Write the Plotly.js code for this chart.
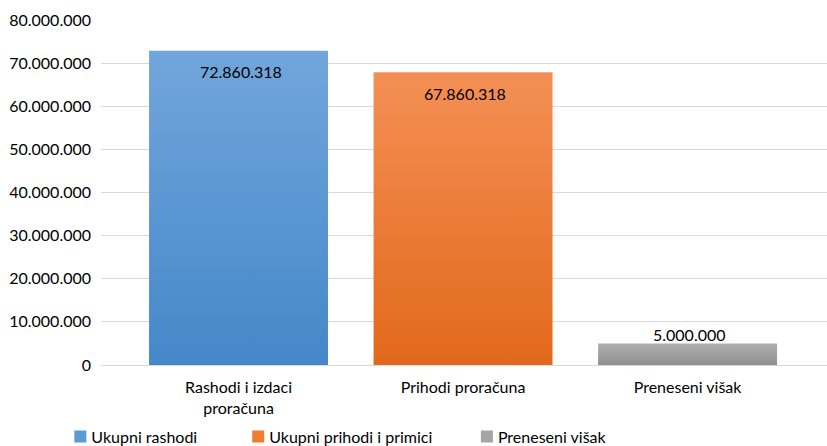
<!DOCTYPE html>
<html>
<head>
<meta charset="utf-8">
<script src="https://cdn.plot.ly/plotly-3.0.1.min.js"></script>
<style>
  html, body { margin: 0; padding: 0; background: #fff; }
  #chart { width: 827px; height: 446px; }
  #chart g.traces > text { transform: translateX(-9px); }
</style>
</head>
<body>
<div id="chart"></div>
<script>
// ---- data ----
const categories = ['Rashodi i izdaci<br>proračuna', 'Prihodi proračuna', 'Preneseni višak'];
const seriesNames = ['Ukupni rashodi', 'Ukupni prihodi i primici', 'Preneseni višak'];
const seriesValues = [72860318, 67860318, 5000000];
const yTickVals = [0, 10000000, 20000000, 30000000, 40000000, 50000000, 60000000, 70000000, 80000000];

// ---- styles ----
const solidColors = ['#5B9BD5', '#ED7D31', '#A5A5A5'];
const gradTop = ['#72A6DC', '#F48F55', '#AFAFAF'];
const gradBottom = ['#4487C9', '#E2691B', '#8E8E8E'];
const FONT = 'Lato, "Liberation Sans", sans-serif';
const TEXT_COLOR = '#000000';

function fmt(v) {
  return String(v).replace(/\B(?=(\d{3})+(?!\d))/g, '.');
}

const legendIds = ['legend', 'legend2', 'legend3'];
const traces = seriesNames.map((name, i) => ({
  type: 'bar',
  name: name,
  x: [categories[i]],
  y: [seriesValues[i]],
  width: 0.797,
  marker: { color: solidColors[i], line: { width: 0 } },
  legend: legendIds[i],
  showlegend: true,
  hoverinfo: 'skip'
}));

const annotations = seriesValues.map((v, i) => {
  const inside = i < 2;
  return {
    x: categories[i], y: v, xref: 'x', yref: 'y',
    text: fmt(v), showarrow: false,
    yanchor: 'middle', xanchor: 'center',
    yshift: inside ? -21 : 9,
    xshift: 2,
    font: { family: FONT, size: 16, color: TEXT_COLOR }
  };
});

const legendBase = {
  orientation: 'h', xref: 'paper', yref: 'paper',
  xanchor: 'left', yanchor: 'top', y: -0.158,
  font: { family: FONT, size: 16, color: TEXT_COLOR },
  bgcolor: 'rgba(0,0,0,0)', itemwidth: 30, tracegroupgap: 0
};

const layout = {
  width: 827, height: 446,
  margin: { l: 101, r: 0, t: 20, b: 81, autoexpand: false },
  paper_bgcolor: '#fff', plot_bgcolor: '#fff',
  separators: ',.',
  barmode: 'overlay',
  showlegend: true,
  font: { family: FONT, size: 16, color: TEXT_COLOR },
  xaxis: {
    type: 'category',
    range: [-0.6125, 2.621],
    showgrid: false, zeroline: false, showline: false, ticks: '',
    ticklabelstandoff: 11,
    tickfont: { family: FONT, size: 16, color: TEXT_COLOR },
    fixedrange: true
  },
  yaxis: {
    range: [0, 80000000],
    tickvals: yTickVals,
    tickformat: ',d',
    showgrid: true, gridcolor: '#D9D9D9', gridwidth: 1,
    zeroline: true, zerolinecolor: '#D9D9D9', zerolinewidth: 1,
    showline: false, ticks: '',
    ticklabelstandoff: 9,
    tickfont: { family: FONT, size: 16, color: TEXT_COLOR },
    fixedrange: true
  },
  legend: Object.assign({}, legendBase, { x: -0.056 }),
  legend2: Object.assign({}, legendBase, { x: 0.189 }),
  legend3: Object.assign({}, legendBase, { x: 0.504 }),
  annotations: annotations
};

function polish(gd) {
  const svg = gd.querySelector('svg.main-svg');
  const ns = 'http://www.w3.org/2000/svg';
  let defs = svg.querySelector('defs');
  if (!defs) { defs = document.createElementNS(ns, 'defs'); svg.insertBefore(defs, svg.firstChild); }
  seriesNames.forEach((n, i) => {
    if (document.getElementById('barGrad' + i)) return;
    const lg = document.createElementNS(ns, 'linearGradient');
    lg.setAttribute('id', 'barGrad' + i);
    lg.setAttribute('x1', '0'); lg.setAttribute('y1', '0');
    lg.setAttribute('x2', '0'); lg.setAttribute('y2', '1');
    [[0, gradTop[i]], [1, gradBottom[i]]].forEach(([o, c]) => {
      const s = document.createElementNS(ns, 'stop');
      s.setAttribute('offset', o); s.setAttribute('stop-color', c);
      lg.appendChild(s);
    });
    defs.appendChild(lg);
  });
  gd.querySelectorAll('.barlayer .trace').forEach((t, i) => {
    t.querySelectorAll('path').forEach(p => { p.style.fill = 'url(#barGrad' + i + ')'; });
  });
}

Plotly.newPlot('chart', traces, layout, { displayModeBar: false, staticPlot: true }).then(gd => {
  polish(gd);
});
</script>
</body>
</html>
